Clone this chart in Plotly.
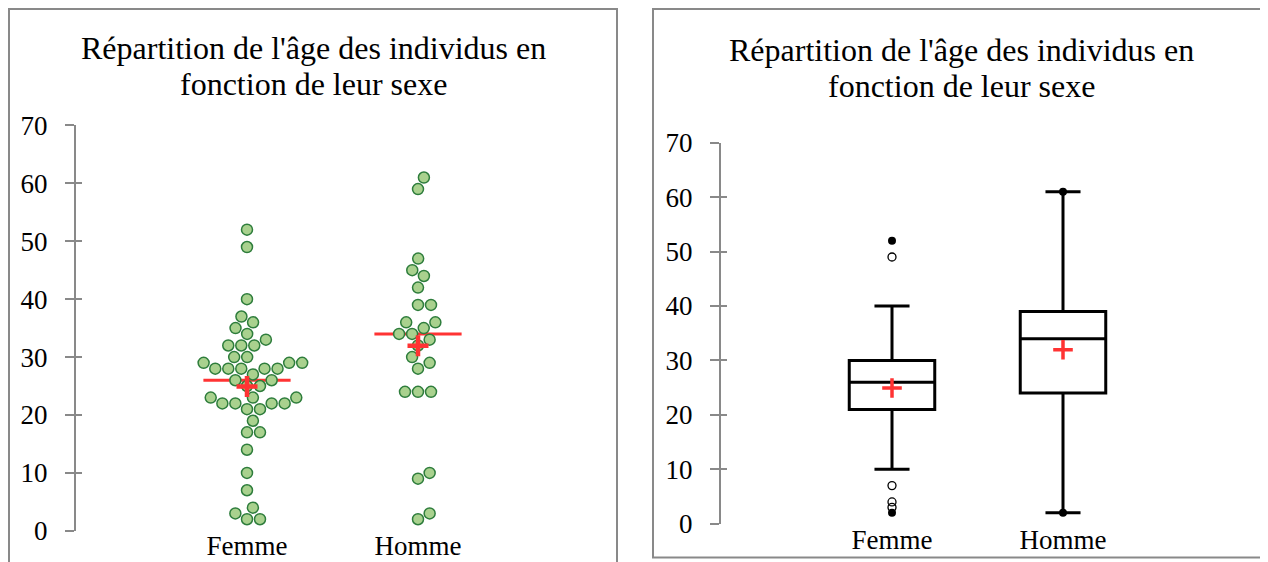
import numpy as np
import plotly.graph_objects as go

# ---------------- data ----------------
categories = ["Femme", "Homme"]
age_femme = [52, 49, 40, 37, 36, 35, 34, 33, 32, 32, 32, 30, 30, 29, 29, 29,
             28, 28, 28, 28, 28, 27, 26, 26, 25, 25, 23, 23, 23, 22, 22, 22, 22,
             21, 21, 19, 17, 17, 14, 10, 7, 4, 3, 2, 2]
age_homme = [61, 59, 47, 45, 44, 42, 39, 39, 36, 36, 35, 34, 34, 33, 32, 30,
             29, 28, 24, 24, 24, 10, 9, 3, 2]
y_ticks = [0, 10, 20, 30, 40, 50, 60, 70]
title_lines = ["Répartition de l'âge des individus en", "fonction de leur sexe"]

# ---------------- layout constants ----------------
W, H = 1268, 562
OFF = 8  # page body margin
FONT = "Liberation Serif"
GRAY = "#898989"
RED = "#ff3333"
TICK_SIZE = 27
TITLE_SIZE = 32

# left panel (page pixels)
L_X0, L_X1 = 76, 589
L_YTOP, L_YBOT = 125.4, 530.8
# right panel (page pixels)
R_X0, R_X1 = 721, 1234
R_YTOP, R_YBOT = 142.7, 523.7

groups = [np.array(age_femme, float), np.array(age_homme, float)]


def swarm_offsets(vals, px_per_unit_y, px_per_unit_x, diam):
    n = len(vals)
    placed = []
    offs = np.zeros(n)
    order = sorted(range(n), key=lambda i: vals[i])
    for i in order:
        y = vals[i] * px_per_unit_y
        cands = [0.0]
        for (px, py) in placed:
            dy = abs(py - y)
            if dy < diam:
                dx = np.sqrt(diam ** 2 - dy ** 2)
                cands += [px + dx, px - dx]
        cands.sort(key=abs)
        chosen = 0.0
        for c in cands:
            if all((c - px) ** 2 + (y - py) ** 2 >= diam ** 2 - 1e-6 for px, py in placed):
                chosen = c
                break
        placed.append((chosen, y))
        offs[i] = chosen / px_per_unit_x
    return offs


fig = go.Figure()

# ---------------- left panel: dot plot ----------------
ppu_y_left = (L_YBOT - L_YTOP) / 70.0
ppu_x_left = (L_X1 - L_X0) / 3.0
for i, vals in enumerate(groups):
    med = float(np.median(vals))
    fig.add_trace(go.Scatter(
        x=[i - 0.255, i + 0.255], y=[med, med], mode="lines",
        line=dict(color=RED, width=3), xaxis="x", yaxis="y",
        showlegend=False, hoverinfo="skip"))
for i, vals in enumerate(groups):
    offs = swarm_offsets(vals, ppu_y_left, ppu_x_left, 13)
    fig.add_trace(go.Scatter(
        x=i + offs, y=vals, mode="markers",
        marker=dict(size=11, color="#a9d18e", line=dict(color="#2e7d3c", width=1.5)),
        xaxis="x", yaxis="y", showlegend=False, cliponaxis=False))
for i, vals in enumerate(groups):
    fig.add_trace(go.Scatter(
        x=[i], y=[float(np.mean(vals))], mode="markers",
        marker=dict(symbol="cross-thin", size=15, line=dict(color=RED, width=4.5)),
        xaxis="x", yaxis="y", showlegend=False, cliponaxis=False))

# ---------------- right panel: box plot ----------------
for i, vals in enumerate(groups):
    fig.add_trace(go.Box(
        x=[i] * len(vals), y=vals, width=0.5, whiskerwidth=0.41,
        quartilemethod="inclusive", boxpoints="outliers",
        marker=dict(color="rgba(0,0,0,0)", size=1, line=dict(width=0)),
        line=dict(color="black", width=3), fillcolor="white",
        xaxis="x2", yaxis="y2", showlegend=False, hoverinfo="skip"))
    q1, q3 = np.percentile(vals, [25, 75])
    iqr = q3 - q1
    lo, hi = q1 - 1.5 * iqr, q3 + 1.5 * iqr
    vmin, vmax = vals.min(), vals.max()
    open_pts = [v for v in vals if (v < lo or v > hi) and v != vmin and v != vmax]
    if open_pts:
        fig.add_trace(go.Scatter(
            x=[i] * len(open_pts), y=open_pts, mode="markers",
            marker=dict(symbol="circle-open", size=8, color="black", line=dict(width=1.3)),
            xaxis="x2", yaxis="y2", showlegend=False, cliponaxis=False))
    fig.add_trace(go.Scatter(
        x=[i, i], y=[vmin, vmax], mode="markers",
        marker=dict(symbol="circle", size=8, color="black"),
        xaxis="x2", yaxis="y2", showlegend=False, cliponaxis=False))
    fig.add_trace(go.Scatter(
        x=[i], y=[float(np.mean(vals))], mode="markers",
        marker=dict(symbol="cross-thin", size=14, line=dict(color=RED, width=3.5)),
        xaxis="x2", yaxis="y2", showlegend=False, cliponaxis=False))

# dummy traces to activate the inner-tick axes
fig.add_trace(go.Scatter(x=[None], y=[None], xaxis="x", yaxis="y3", showlegend=False, hoverinfo="skip"))
fig.add_trace(go.Scatter(x=[None], y=[None], xaxis="x2", yaxis="y4", showlegend=False, hoverinfo="skip"))


def px_x(p):
    return (p - OFF) / W


def px_y(p):
    return 1 - (p - OFF) / H


tickfont = dict(family=FONT, size=TICK_SIZE, color="black")
yaxis_common = dict(range=[0, 70], tickvals=y_ticks, showgrid=False, zeroline=False,
                    showline=True, linecolor=GRAY, linewidth=2, ticks="outside",
                    ticklen=9, tickwidth=2, tickcolor=GRAY, tickfont=tickfont,
                    ticklabelstandoff=12, fixedrange=True, automargin=False)
inner_common = dict(range=[0, 70], tickvals=y_ticks, showgrid=False, zeroline=False,
                    showline=False, ticks="inside", ticklen=6, tickwidth=2,
                    tickcolor=GRAY, showticklabels=False, side="left", automargin=False)
xaxis_common = dict(range=[-1, 2], tickvals=[0, 1], ticktext=categories, showgrid=False,
                    zeroline=False, showline=False, ticks="", tickfont=tickfont,
                    automargin=False, fixedrange=True)

fig.update_layout(
    template="none",
    width=W, height=H, margin=dict(l=0, r=0, t=0, b=0, pad=0), autosize=False,
    paper_bgcolor="white", plot_bgcolor="white", showlegend=False,
    xaxis=dict(domain=[px_x(L_X0), px_x(L_X1)], anchor="y", ticklabelstandoff=-4, **xaxis_common),
    yaxis=dict(domain=[px_y(L_YBOT), px_y(L_YTOP)], anchor="x", **yaxis_common),
    yaxis3=dict(overlaying="y", anchor="x", **inner_common),
    xaxis2=dict(domain=[px_x(R_X0), px_x(R_X1)], anchor="y2", ticklabelstandoff=-3, **xaxis_common),
    yaxis2=dict(domain=[px_y(R_YBOT), px_y(R_YTOP)], anchor="x2", **yaxis_common),
    yaxis4=dict(overlaying="y2", anchor="x2", **inner_common),
    font=dict(family=FONT, color="black"),
)

# panel borders
fig.add_shape(type="rect", xref="paper", yref="paper",
              x0=1 / W, x1=px_x(617), y0=-0.02, y1=1 - 1 / H,
              line=dict(color=GRAY, width=2), fillcolor="rgba(0,0,0,0)", layer="below")
fig.add_shape(type="rect", xref="paper", yref="paper",
              x0=px_x(653), x1=1.02, y0=px_y(557.5), y1=1 - 1 / H,
              line=dict(color=GRAY, width=2), fillcolor="rgba(0,0,0,0)", layer="below")

# titles (one annotation per line)
title_pos = [(313.5, [48, 84]), (961, [50, 86])]
for cx, ys in title_pos:
    for line, yy in zip(title_lines, ys):
        fig.add_annotation(text=line, xref="paper", yref="paper",
                           x=px_x(cx), y=px_y(yy), xanchor="center", yanchor="middle",
                           showarrow=False, font=dict(family=FONT, size=TITLE_SIZE, color="black"))

fig.write_html("out.html")
